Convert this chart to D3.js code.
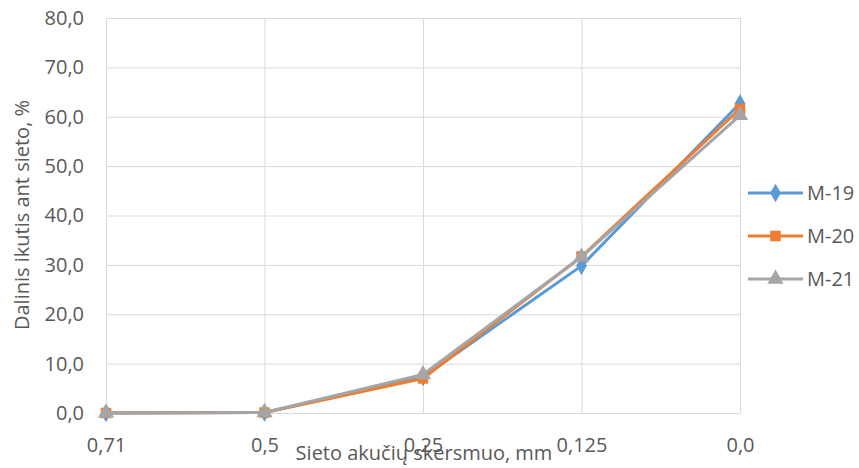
<!DOCTYPE html>
<html><head><meta charset="utf-8">
<script src="https://cdn.jsdelivr.net/npm/d3@7"></script>
<style>body{margin:0;background:#fff}svg{display:block}text{font-family:"Open Sans",sans-serif;fill:#595959}</style>
</head><body>
<script>
const categories = ["0,71","0,5","0,25","0,125","0,0"];
const m19 = [0.0, 0.1, 7.3, 29.8, 62.7];
const m20 = [0.0, 0.1, 7.0, 31.7, 61.6];
const m21 = [0.0, 0.1, 7.8, 31.6, 60.3];
const seriesNames = ["M-19","M-20","M-21"];
const yTicks = [0,10,20,30,40,50,60,70,80];

const W=859,H=468;
const FS=20;
const svg=d3.select("body").append("svg").attr("width",W).attr("height",H);
const x=d3.scalePoint().domain(categories).range([106,740]);
const y=d3.scaleLinear().domain([0,80]).range([413,18]);
const fmt=v=>d3.format(".1f")(v).replace(".",",");

const g=svg.append("g");
g.append("g").attr("transform","translate(106,0)")
 .call(d3.axisLeft(y).tickValues(yTicks).tickSize(-634).tickFormat(fmt).tickPadding(22))
 .call(a=>{a.select(".domain").remove();a.selectAll("line").attr("stroke","#d9d9d9").attr("stroke-width",1);
   a.selectAll("text").attr("font-size",FS).attr("fill","#595959");});
g.append("g").attr("transform","translate(0,413)")
 .call(d3.axisBottom(x).tickSize(-395).tickPadding(0))
 .call(a=>{a.select(".domain").remove();a.selectAll("line").attr("stroke","#d9d9d9").attr("stroke-width",1);
   a.selectAll("text").attr("font-size",FS).attr("fill","#595959").attr("dy",null).attr("y",39);});

const data=[m19,m20,m21];
const colors=["#5B9BD5","#ED7D31","#A5A5A5"];
const shapes=[d3.symbolDiamond,d3.symbolSquare,d3.symbolTriangle];
const sizes=[100,110,115];
const line=d3.line().x((d,i)=>x(categories[i])).y(d=>y(d));
data.forEach((s,k)=>{
  g.append("path").datum(s).attr("d",line).attr("fill","none").attr("stroke",colors[k]).attr("stroke-width",3).attr("stroke-linejoin","round");
  g.selectAll(".m"+k).data(s).enter().append("path")
   .attr("transform",(d,i)=>`translate(${x(categories[i])},${y(d)})`)
   .attr("d",d3.symbol().type(shapes[k]).size(sizes[k])).attr("fill",colors[k]);
});

const ly=[193,236,279];
seriesNames.forEach((n,k)=>{
  const lg=svg.append("g").attr("transform",`translate(748,${ly[k]})`);
  lg.append("line").attr("x1",0).attr("x2",55).attr("stroke",colors[k]).attr("stroke-width",3);
  lg.append("path").attr("transform","translate(27.5,0)").attr("d",d3.symbol().type(shapes[k]).size(sizes[k])).attr("fill",colors[k]);
  lg.append("text").attr("x",59).attr("y",7).attr("font-size",FS).text(n);
});

svg.append("text").attr("x",424).attr("y",460).attr("text-anchor","middle").attr("font-size",FS).text("Sieto akučių skersmuo, mm");
svg.append("text").attr("transform","translate(29,215) rotate(-90)").attr("text-anchor","middle").attr("font-size",FS).text("Dalinis ikutis ant sieto, %");
</script>
</body></html>
